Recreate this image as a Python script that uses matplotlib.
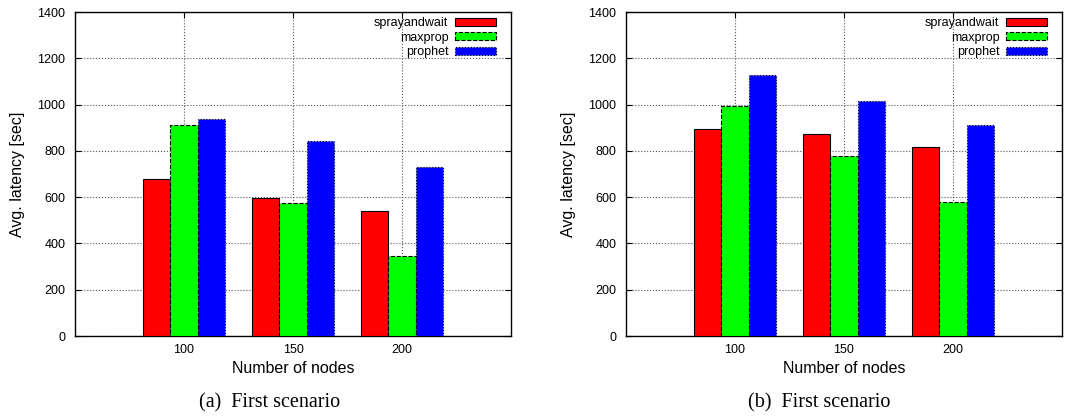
import matplotlib.pyplot as plt
import numpy as np

nodes = [100, 150, 200]
series = ["sprayandwait", "maxprop", "prophet"]
colors = ["#ff0000", "#00ff00", "#0000ff"]
edge_styles = ["-", "--", ":"]

# values (avg. latency in seconds)
left_spray = [677, 595, 541]
left_maxprop = [910, 575, 344]
left_prophet = [939, 843, 730]

right_spray = [893, 874, 818]
right_maxprop = [994, 776, 578]
right_prophet = [1126, 1015, 910]

captions = ["(a)  First scenario", "(b)  First scenario"]
caption_x = [0.252, 0.766]

plt.rcParams["font.family"] = "Liberation Sans"

fig = plt.figure(figsize=(10.7, 4.17), dpi=100)
ax1 = fig.add_axes([0.0701, 0.1942, 0.4075, 0.777])
ax2 = fig.add_axes([0.585, 0.1942, 0.4075, 0.777])

bar_w = 12.5
x = np.array(nodes)

panels = [(ax1, [left_spray, left_maxprop, left_prophet]),
          (ax2, [right_spray, right_maxprop, right_prophet])]

for k, (ax, data) in enumerate(panels):
    for i, vals in enumerate(data):
        ax.bar(x + (i - 1) * bar_w, vals, width=bar_w, color=colors[i],
               edgecolor="black", linewidth=0.8, linestyle=edge_styles[i],
               label=series[i], zorder=3)
    ax.set_xlim(50, 250)
    ax.set_ylim(0, 1400)
    ax.set_xticks(nodes)
    ax.set_yticks(range(0, 1401, 200))
    ax.tick_params(direction="in", top=True, right=True, labelsize=9, length=4)
    ax.tick_params(axis="x", pad=6)
    ax.tick_params(axis="y", pad=7)
    ax.grid(True, linestyle=":", color="#555555", linewidth=0.8, zorder=0)
    ax.set_axisbelow(True)
    ax.set_xlabel("Number of nodes", fontsize=11.5, labelpad=3)
    ax.set_ylabel("Avg. latency [sec]", fontsize=11.5, labelpad=9)
    for s in ax.spines.values():
        s.set_linewidth(1.0)
    leg = ax.legend(loc="upper right", bbox_to_anchor=(0.977, 1.0),
                    frameon=False, markerfirst=False,
                    fontsize=9, handlelength=3.3, handleheight=0.6,
                    labelspacing=0.2, borderaxespad=0.1, borderpad=0.3,
                    handletextpad=0.5)
    for t in leg.get_texts():
        t.set_ha("right")
    fig.text(caption_x[k], 0.035, captions[k], ha="center", va="center",
             fontsize=14.5, family="Liberation Serif")

fig.savefig("out.png", dpi=100)
